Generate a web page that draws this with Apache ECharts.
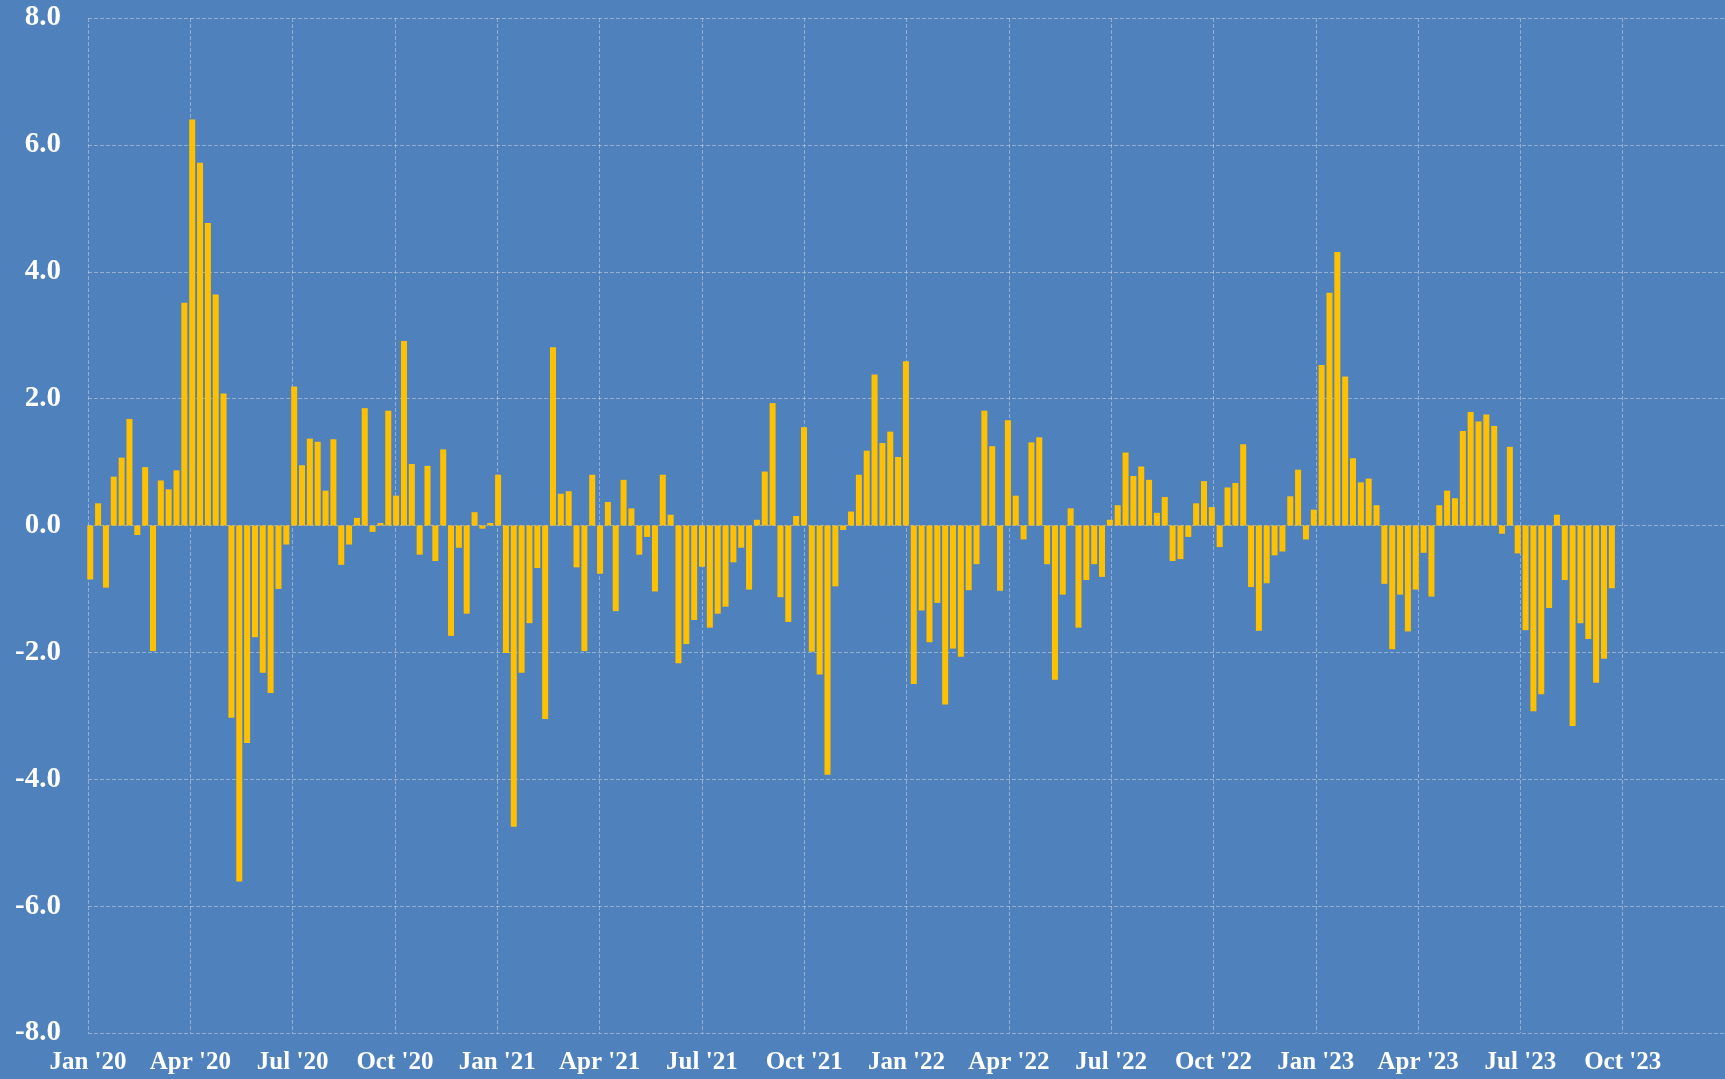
<!DOCTYPE html>
<html>
<head>
<meta charset="utf-8">
<script src="https://cdn.jsdelivr.net/npm/echarts@6/dist/echarts.min.js"></script>
<style>
html,body{margin:0;padding:0;background:#4F81BD;}
#chart{width:1725px;height:1079px;}
</style>
</head>
<body>
<div id="chart"></div>
<script>
// Weekly series, first week ending 2020-01-03
var startDate = '2020-01-03';
var axisStart = '2020-01-01';
var axisEnd = '2024-01-01';
var quarterMonths = ['Jan', 'Apr', 'Jul', 'Oct'];
var yTicks = [-8, -6, -4, -2, 0, 2, 4, 6, 8];

var values = [
  -0.85, 0.35, -0.98, 0.77, 1.07, 1.68, -0.15, 0.92, -1.98, 0.71, 0.57, 0.87, 3.51,
  6.40, 5.72, 4.77, 3.64, 2.08, -3.03, -5.61, -3.43, -1.76, -2.32, -2.64, -1.00, -0.30,
  2.19, 0.95, 1.37, 1.32, 0.55, 1.36, -0.62, -0.30, 0.12, 1.85, -0.10, 0.04, 1.81,
  0.47, 2.91, 0.97, -0.46, 0.94, -0.56, 1.20, -1.74, -0.35, -1.39, 0.21, -0.05, 0.04,
  0.80, -2.01, -4.75, -2.32, -1.54, -0.67, -3.05, 2.81, 0.50, 0.54, -0.66, -1.98, 0.80,
  -0.76, 0.37, -1.35, 0.72, 0.27, -0.46, -0.18, -1.04, 0.80, 0.17, -2.17, -1.87,
  -1.49, -0.65, -1.61, -1.39, -1.28, -0.58, -0.35, -1.01, 0.09, 0.85, 1.93, -1.13,
  -1.52, 0.15, 1.55, -1.99, -2.35, -3.93, -0.96, -0.07, 0.22, 0.80, 1.18, 2.38, 1.30,
  1.48, 1.08, 2.59, -2.50, -1.34, -1.84, -1.22, -2.82, -1.94, -2.07, -1.02, -0.61,
  1.81, 1.25, -1.03, 1.66, 0.47, -0.22, 1.31, 1.39, -0.61, -2.43, -1.09, 0.27, -1.61,
  -0.86, -0.61, -0.81, 0.09, 0.32, 1.15, 0.78, 0.93, 0.72, 0.20, 0.45, -0.56, -0.53,
  -0.18, 0.35, 0.70, 0.29, -0.34, 0.60, 0.67, 1.28, -0.97, -1.66, -0.91, -0.47, -0.41,
  0.46, 0.88, -0.22, 0.25, 2.53, 3.67, 4.31, 2.35, 1.06, 0.68, 0.74, 0.32, -0.92,
  -1.95, -1.09, -1.67, -1.01, -0.43, -1.12, 0.32, 0.55, 0.43, 1.49, 1.79, 1.64, 1.75,
  1.57, -0.13, 1.24, -0.44, -1.65, -2.93, -2.66, -1.30, 0.17, -0.86, -3.16, -1.54,
  -1.79, -2.48, -2.10, -0.99
];

var DAY = 86400000;
function dayOffset(s) {
  return Math.round((Date.parse(s + 'T00:00:00Z') - Date.parse(axisStart + 'T00:00:00Z')) / DAY);
}
var firstDay = dayOffset(startDate);
var totalDays = dayOffset(axisEnd);
var quarterLen = totalDays / 16;

var seriesData = values.map(function (v, i) { return [firstDay + 7 * i, v]; });

var chart = echarts.init(document.getElementById('chart'));
var gridColor = 'rgba(205,210,220,0.55)';
var font = '"Liberation Serif", "DejaVu Serif", serif';

chart.setOption({
  backgroundColor: '#4F81BD',
  animation: false,
  grid: { left: 88, right: 0, top: 18, bottom: 46, containLabel: false },
  xAxis: {
    type: 'value',
    min: 0,
    max: totalDays,
    interval: quarterLen,
    axisLine: { show: false },
    axisTick: { show: false },
    splitLine: { show: true, lineStyle: { color: gridColor, width: 1, type: [4, 2] } },
    axisLabel: {
      showMaxLabel: false,
      margin: 17,
      color: '#FFFFFF',
      fontFamily: font,
      fontWeight: 'bold',
      fontSize: 25,
      formatter: function (v) {
        var q = Math.round(v / quarterLen);
        return quarterMonths[q % 4] + " '" + (20 + Math.floor(q / 4));
      }
    }
  },
  yAxis: {
    type: 'value',
    min: yTicks[0],
    max: yTicks[yTicks.length - 1],
    interval: 2,
    axisLine: { show: false },
    axisTick: { show: false },
    splitLine: { show: true, lineStyle: { color: gridColor, width: 1, type: [4, 2] } },
    axisLabel: {
      margin: 27,
      color: '#FFFFFF',
      fontFamily: font,
      fontWeight: 'bold',
      fontSize: 29,
      formatter: function (v) { return v.toFixed(1); }
    }
  },
  series: [{
    type: 'bar',
    data: seriesData,
    barWidth: 6,
    itemStyle: { color: '#FFC000' }
  }]
});
</script>
</body>
</html>
